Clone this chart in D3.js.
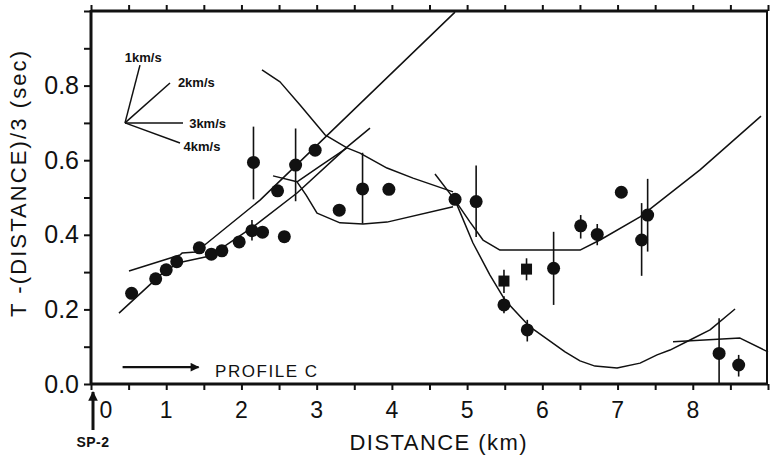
<!DOCTYPE html>
<html><head><meta charset="utf-8">
<script src="https://cdn.jsdelivr.net/npm/d3@7"></script>
<style>
html,body{margin:0;padding:0;background:#fff;}
svg{display:block;}
text{font-family:"Liberation Sans",Arial,Helvetica,sans-serif;fill:#111;}
</style></head>
<body>
<svg id="chart" width="770" height="456"></svg>
<script>
// ---- data (distance km, reduced time sec) ----
const circleKm  = [0.54,0.86,1.00,1.14,1.44,1.60,1.74,1.97,2.14,2.28,2.57,2.16,2.48,2.72,2.98,3.30,3.61,3.96,4.84,5.12,5.49,5.80,6.15,6.51,6.73,7.05,7.32,7.40,8.35,8.61];
const circleSec = [0.243,0.282,0.306,0.328,0.365,0.348,0.357,0.381,0.411,0.407,0.395,0.594,0.518,0.587,0.627,0.466,0.523,0.522,0.495,0.489,0.212,0.145,0.310,0.424,0.401,0.514,0.386,0.453,0.082,0.051];
const squareKm  = [5.49,5.79];
const squareSec = [0.276,0.308];
const errKm = [2.14,2.16,2.72,3.61,5.12,5.49,5.49,5.79,5.80,6.15,6.51,6.73,7.32,7.40,8.35,8.61];
const errLo = [0.385,0.495,0.490,0.430,0.394,0.244,0.190,0.278,0.114,0.212,0.390,0.372,0.290,0.355,0.000,0.020];
const errHi = [0.440,0.690,0.685,0.620,0.586,0.306,0.235,0.337,0.172,0.408,0.453,0.429,0.485,0.550,0.176,0.078];

const line1Km  = [0.372,0.997,1.21,1.582,2.154,2.739,3.403,3.709];
const line1Sec = [0.190,0.306,0.327,0.343,0.421,0.512,0.635,0.686];
const line2Km  = [0.505,1.183,1.21,1.396,2.247,2.978,4.839];
const line2Sec = [0.303,0.346,0.351,0.354,0.493,0.635,0.997];
const curve3Km  = [2.273,2.513,2.779,3.111,3.403,3.576,3.935,4.281,4.813];
const curve3Sec = [0.842,0.810,0.748,0.668,0.633,0.619,0.579,0.552,0.515];
const curve4Km  = [2.420,2.739,2.858,3.005,3.310,3.616,3.935,4.813];
const curve4Sec = [0.558,0.542,0.507,0.458,0.432,0.429,0.434,0.475];
const curve5Km  = [2.739,3.044,3.403];
const curve5Sec = [0.542,0.584,0.633];
const curve6Km  = [4.573,4.839,5.078,5.304,5.504,5.836,6.102,6.302,6.501,6.700,6.993,7.299,7.525,7.697,7.963,8.229,8.562];
const curve6Sec = [0.563,0.493,0.378,0.292,0.225,0.153,0.115,0.086,0.062,0.048,0.043,0.056,0.078,0.091,0.118,0.145,0.201];
const curve7Km  = [4.839,5.039,5.211,5.437,6.501,6.767,7.299,8.096,8.907];
const curve7Sec = [0.493,0.434,0.386,0.359,0.359,0.386,0.448,0.574,0.718];
const curve8Km  = [7.737,8.628,9.0];
const curve8Sec = [0.113,0.123,0.086];

const fanOrigin = [0.452,0.700];
const fanLabels = ["1km/s","2km/s","3km/s","4km/s"];
const fanEndKm  = [0.651,1.050,1.223,1.183];
const fanEndSec = [0.855,0.807,0.700,0.646];

const xTickLabels = [0,1,2,3,4,5,6,7,8];
const yTickLabels = ["0.0","0.2","0.4","0.6","0.8"];

// ---- drawing ----
const svg = d3.select("#chart");
const ink = "#111";
const x = d3.scaleLinear().domain([0,9]).range([91,768]);
const y = d3.scaleLinear().domain([0,1]).range([384,11]);

// axes ticks
const halfKm = d3.range(0,9.001,0.5);
svg.append("g").attr("transform",`translate(0,${y(0)})`)
  .call(d3.axisBottom(x).tickValues(halfKm).tickSize(6).tickSizeOuter(0).tickFormat(""))
  .call(g=>{g.select(".domain").remove();g.selectAll("line").attr("stroke",ink).attr("stroke-width",2);});
svg.append("g").attr("transform",`translate(0,${y(1)})`)
  .call(d3.axisTop(x).tickValues(halfKm).tickSize(6).tickSizeOuter(0).tickFormat(""))
  .call(g=>{g.select(".domain").remove();g.selectAll("line").attr("stroke",ink).attr("stroke-width",2);});
const yTicks = d3.range(0,1.001,0.1);
svg.append("g").attr("transform",`translate(${x(0)},0)`)
  .call(d3.axisLeft(y).tickValues(yTicks).tickSize(7).tickSizeOuter(0).tickPadding(5)
    .tickFormat((d,i)=> (i%2===0 && i/2 < yTickLabels.length) ? yTickLabels[i/2] : ""))
  .call(g=>{g.select(".domain").remove();
    g.selectAll("line").attr("stroke",ink).attr("stroke-width",2);
    g.selectAll("text").style("font-size","25px").attr("fill",ink)
      .style("font-family","Liberation Sans, Arial, sans-serif");});

// frame
const frame = svg.append("g").attr("stroke",ink).attr("fill","none");
frame.append("line").attr("x1",x(0)).attr("x2",x(9)).attr("y1",y(0)).attr("y2",y(0)).attr("stroke-width",3);
frame.append("line").attr("x1",x(0)).attr("x2",x(9)).attr("y1",y(1)).attr("y2",y(1)).attr("stroke-width",3);
frame.append("line").attr("x1",x(0)).attr("x2",x(0)).attr("y1",y(0)+1).attr("y2",y(1)-1).attr("stroke-width",3);
frame.append("line").attr("x1",x(9)-1).attr("x2",x(9)-1).attr("y1",y(0)).attr("y2",y(1)).attr("stroke-width",2);

// x tick labels
svg.append("g").selectAll("text").data(xTickLabels).join("text")
  .attr("x",d=> x(d) + (d===0 ? 15 : 0))
  .attr("y",y(0)+34)
  .attr("text-anchor","middle").attr("font-size",23)
  .text(d=>d);

// axis titles
svg.append("text").attr("x",438).attr("y",450).attr("text-anchor","middle")
  .attr("font-size",22).attr("textLength",177).attr("lengthAdjust","spacing")
  .text("DISTANCE (km)");
svg.append("text").attr("transform","translate(26,184) rotate(-90)").attr("text-anchor","middle")
  .attr("font-size",22).attr("textLength",266).attr("lengthAdjust","spacing")
  .text("T -(DISTANCE)/3 (sec)");

// arrow head marker
const defs = svg.append("defs");
defs.append("marker").attr("id","ah").attr("viewBox","0 0 10 10").attr("refX",9).attr("refY",5)
  .attr("markerWidth",5).attr("markerHeight",4).attr("orient","auto").attr("markerUnits","strokeWidth")
  .append("path").attr("d","M0,0 L10,5 L0,10 Z").attr("fill",ink);
defs.append("marker").attr("id","ah2").attr("viewBox","0 0 10 10").attr("refX",9).attr("refY",5)
  .attr("markerWidth",3.2).attr("markerHeight",3.2).attr("orient","auto").attr("markerUnits","strokeWidth")
  .append("path").attr("d","M0,0 L10,5 L0,10 Z").attr("fill",ink);

// SP-2 arrow + label
svg.append("line").attr("x1",x(0)+2).attr("x2",x(0)+2).attr("y1",y(0)+46).attr("y2",y(0)+8)
  .attr("stroke",ink).attr("stroke-width",3).attr("marker-end","url(#ah2)");
svg.append("text").attr("x",x(0)+2).attr("y",y(0)+63).attr("text-anchor","middle")
  .attr("font-size",14).attr("font-weight","bold").attr("letter-spacing",0.5).text("SP-2");

// PROFILE C
svg.append("line").attr("x1",x(0.42)).attr("x2",x(1.43)).attr("y1",y(0.045)).attr("y2",y(0.045))
  .attr("stroke",ink).attr("stroke-width",2.2).attr("marker-end","url(#ah)");
svg.append("text").attr("x",x(1.65)).attr("y",y(0.018)).attr("font-size",17)
  .attr("textLength",102).attr("lengthAdjust","spacing").text("PROFILE C");

// velocity fan
const fan = svg.append("g");
fanLabels.forEach((lab,i)=>{
  fan.append("line").attr("x1",x(fanOrigin[0])).attr("y1",y(fanOrigin[1]))
    .attr("x2",x(fanEndKm[i])).attr("y2",y(fanEndSec[i])).attr("stroke",ink).attr("stroke-width",1.5);
});
const fanTextPos = [[0.45,0.862],[1.155,0.797],[1.305,0.685],[1.23,0.625]];
fan.selectAll("text").data(fanLabels).join("text")
  .attr("x",(d,i)=>x(fanTextPos[i][0])).attr("y",(d,i)=>y(fanTextPos[i][1]))
  .attr("font-size",13).attr("font-weight","bold").text(d=>d);

// travel-time curves
const lineGen = d3.line().x(d=>x(d[0])).y(d=>y(d[1]));
const curves = [[line1Km,line1Sec],[line2Km,line2Sec],[curve3Km,curve3Sec],[curve4Km,curve4Sec],
  [curve5Km,curve5Sec],[curve6Km,curve6Sec],[curve7Km,curve7Sec],[curve8Km,curve8Sec]];
svg.append("g").selectAll("path").data(curves).join("path")
  .attr("d",c=>lineGen(c[0].map((k,i)=>[k,c[1][i]])))
  .attr("fill","none").attr("stroke",ink).attr("stroke-width",1.5).attr("stroke-linejoin","round");

// error bars
svg.append("g").selectAll("line").data(errKm).join("line")
  .attr("x1",d=>x(d)).attr("x2",d=>x(d))
  .attr("y1",(d,i)=>y(errLo[i])).attr("y2",(d,i)=>y(errHi[i]))
  .attr("stroke",ink).attr("stroke-width",1.6);

// points
svg.append("g").selectAll("circle").data(circleKm).join("circle")
  .attr("cx",d=>x(d)).attr("cy",(d,i)=>y(circleSec[i])).attr("r",6.5).attr("fill",ink);
svg.append("g").selectAll("rect").data(squareKm).join("rect")
  .attr("x",d=>x(d)-5.5).attr("y",(d,i)=>y(squareSec[i])-5.5).attr("width",11).attr("height",11).attr("fill",ink);
</script>
</body></html>
